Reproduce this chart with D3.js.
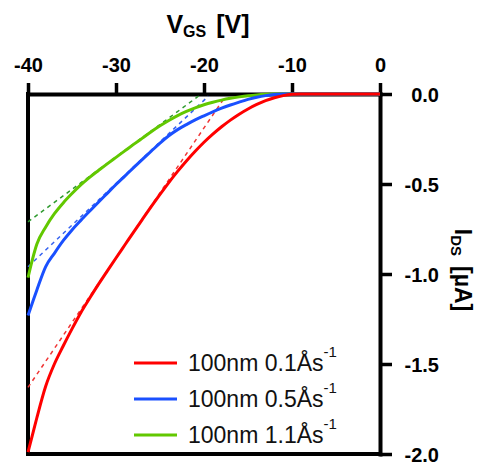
<!DOCTYPE html>
<html>
<head>
<meta charset="utf-8">
<script src="https://cdn.jsdelivr.net/npm/d3@7"></script>
<style>
  html, body { margin: 0; padding: 0; background: #fff; }
  svg { display: block; font-family: "Liberation Sans", Arial, Helvetica, sans-serif; }
</style>
</head>
<body>
<svg id="chart" width="478" height="464"></svg>
<script>
// ---- data ----
const vgs = [-40, -39.5, -39, -38, -37, -36, -35, -34, -33, -32, -31, -30, -29, -28, -27, -26, -25, -24, -23, -22, -21, -20,
             -19, -18, -17, -16, -15, -14, -13, -12, -11, -10, -9, -8, -6, -4, -2, 0];
const idsRed = [-1.99, -1.895, -1.80, -1.625, -1.50, -1.40, -1.305, -1.215, -1.135, -1.058, -0.984, -0.911, -0.839, -0.767, -0.696, -0.626, -0.558, -0.492, -0.43, -0.372, -0.318, -0.268,
                -0.223, -0.182, -0.145, -0.112, -0.083, -0.058, -0.037, -0.021, -0.009, -0.002, 0, 0, 0, 0, 0, 0];
const idsBlue = [-1.23, -1.16, -1.09, -0.96, -0.885, -0.815, -0.755, -0.702, -0.651, -0.601, -0.552, -0.503, -0.456, -0.409, -0.363, -0.318, -0.273, -0.232, -0.198, -0.17, -0.144, -0.121,
                 -0.099, -0.079, -0.061, -0.045, -0.03, -0.018, -0.009, -0.003, -0.0005, 0, 0, 0, 0, 0, 0, 0];
const idsGreen = [-1.02, -0.92, -0.835, -0.74, -0.665, -0.605, -0.553, -0.505, -0.463, -0.425, -0.388, -0.352, -0.316, -0.28, -0.245, -0.21, -0.177, -0.147, -0.12, -0.097, -0.077, -0.06,
                  -0.046, -0.034, -0.024, -0.016, -0.0095, -0.005, -0.002, -0.0005, 0, 0, 0, 0, 0, 0, 0, 0];

// tangent (dashed) lines: [V start, I start, V end, I end]
const tanRed = [-40, -1.63, -17.8, -0.03];
const tanBlue = [-40, -0.96, -19.5, -0.012];
const tanGreen = [-40, -0.71, -20.3, 0];

const seriesNames = ["100nm 0.1Ås", "100nm 0.5Ås", "100nm 1.1Ås"];
const xTicks = [-40, -30, -20, -10, 0];
const yTicks = [0, -0.5, -1.0, -1.5, -2.0];

// ---- styling ----
const colors = ["#ff0000", "#1a50ff", "#62c800"];
const dashColors = ["#f03535", "#3562f0", "#2e9a2e"];

const svg = d3.select("#chart");
const x = d3.scaleLinear().domain([-40, 0]).range([28, 380]);
const y = d3.scaleLinear().domain([-2, 0]).range([454, 94]);

function pts(vs, is) { return vs.map((v, i) => ({v, i: is[i]})); }
const series = [pts(vgs, idsRed), pts(vgs, idsBlue), pts(vgs, idsGreen)];
const tangents = [tanRed, tanBlue, tanGreen];

// axes
const axTop = d3.axisTop(x).tickValues(xTicks).tickSize(11).tickPadding(11).tickSizeOuter(0)
  .tickFormat(d => String(d));
const gTop = svg.append("g").attr("transform", `translate(0,${y(0)})`).call(axTop);

const axRight = d3.axisRight(y).tickValues(yTicks).tickSize(12).tickPadding(10).tickSizeOuter(0)
  .tickFormat(d => d.toFixed(1));
const gRight = svg.append("g").attr("transform", `translate(${x(0)},0)`).call(axRight);

[gTop, gRight].forEach(g => {
  g.select(".domain").attr("stroke", "#000").attr("stroke-width", 4).attr("stroke-linecap", "square");
  g.selectAll(".tick line").attr("stroke", "#000").attr("stroke-width", 3.5);
  g.selectAll(".tick text").attr("fill", "#000").attr("font-size", 20).attr("font-weight", "bold")
    .attr("font-family", "'Liberation Sans', Arial, sans-serif");
});
gRight.selectAll(".tick text").attr("text-anchor", "end").attr("x", 59).attr("dy", "0.35em");

// left and bottom frame lines
svg.append("line").attr("x1", x(-40)).attr("x2", x(-40)).attr("y1", y(0)).attr("y2", y(-2))
  .attr("stroke", "#000").attr("stroke-width", 4).attr("stroke-linecap", "square");
svg.append("line").attr("x1", x(-40)).attr("x2", x(0)).attr("y1", y(-2)).attr("y2", y(-2))
  .attr("stroke", "#000").attr("stroke-width", 4).attr("stroke-linecap", "square");

// dashed tangents
tangents.forEach((t, k) => {
  svg.append("line")
    .attr("x1", x(t[0])).attr("y1", y(t[1])).attr("x2", x(t[2])).attr("y2", y(t[3]))
    .attr("stroke", dashColors[k]).attr("stroke-width", 1.5).attr("stroke-dasharray", "4,4");
});

// curves (drawn green, blue, red so red sits on top)
const line = d3.line().x(d => x(d.v)).y(d => y(d.i)).curve(d3.curveMonotoneX);
[2, 1, 0].forEach(k => {
  svg.append("path").datum(series[k]).attr("d", line)
    .attr("fill", "none").attr("stroke", colors[k]).attr("stroke-width", 3)
    .attr("stroke-linejoin", "round");
});

// titles
const tTop = svg.append("text").attr("x", 208).attr("y", 33).attr("text-anchor", "middle")
  .attr("font-size", 25).attr("font-weight", "bold").attr("fill", "#000");
tTop.append("tspan").text("V");
tTop.append("tspan").attr("font-size", 16).attr("dy", 4).text("GS");
tTop.append("tspan").attr("dy", -4).attr("dx", 10).text("[V]");

const tRight = svg.append("text").attr("transform", "translate(455,270) rotate(90)")
  .attr("text-anchor", "middle").attr("font-size", 23).attr("font-weight", "bold").attr("fill", "#000");
tRight.append("tspan").text("I");
tRight.append("tspan").attr("font-size", 15).attr("dy", 4).text("DS");
tRight.append("tspan").attr("dy", -4).attr("dx", 10).text("[µA]");

// legend
const leg = svg.append("g");
seriesNames.forEach((name, k) => {
  const ly = 363 + k * 36;
  leg.append("line").attr("x1", 134).attr("x2", 177).attr("y1", ly).attr("y2", ly)
    .attr("stroke", colors[k]).attr("stroke-width", 3);
  const t = leg.append("text").attr("x", 188).attr("y", ly + 8).attr("font-size", 23).attr("fill", "#111");
  t.append("tspan").text(name);
  t.append("tspan").attr("font-size", 15).attr("dy", -14).text("-1");
});
</script>
</body>
</html>
